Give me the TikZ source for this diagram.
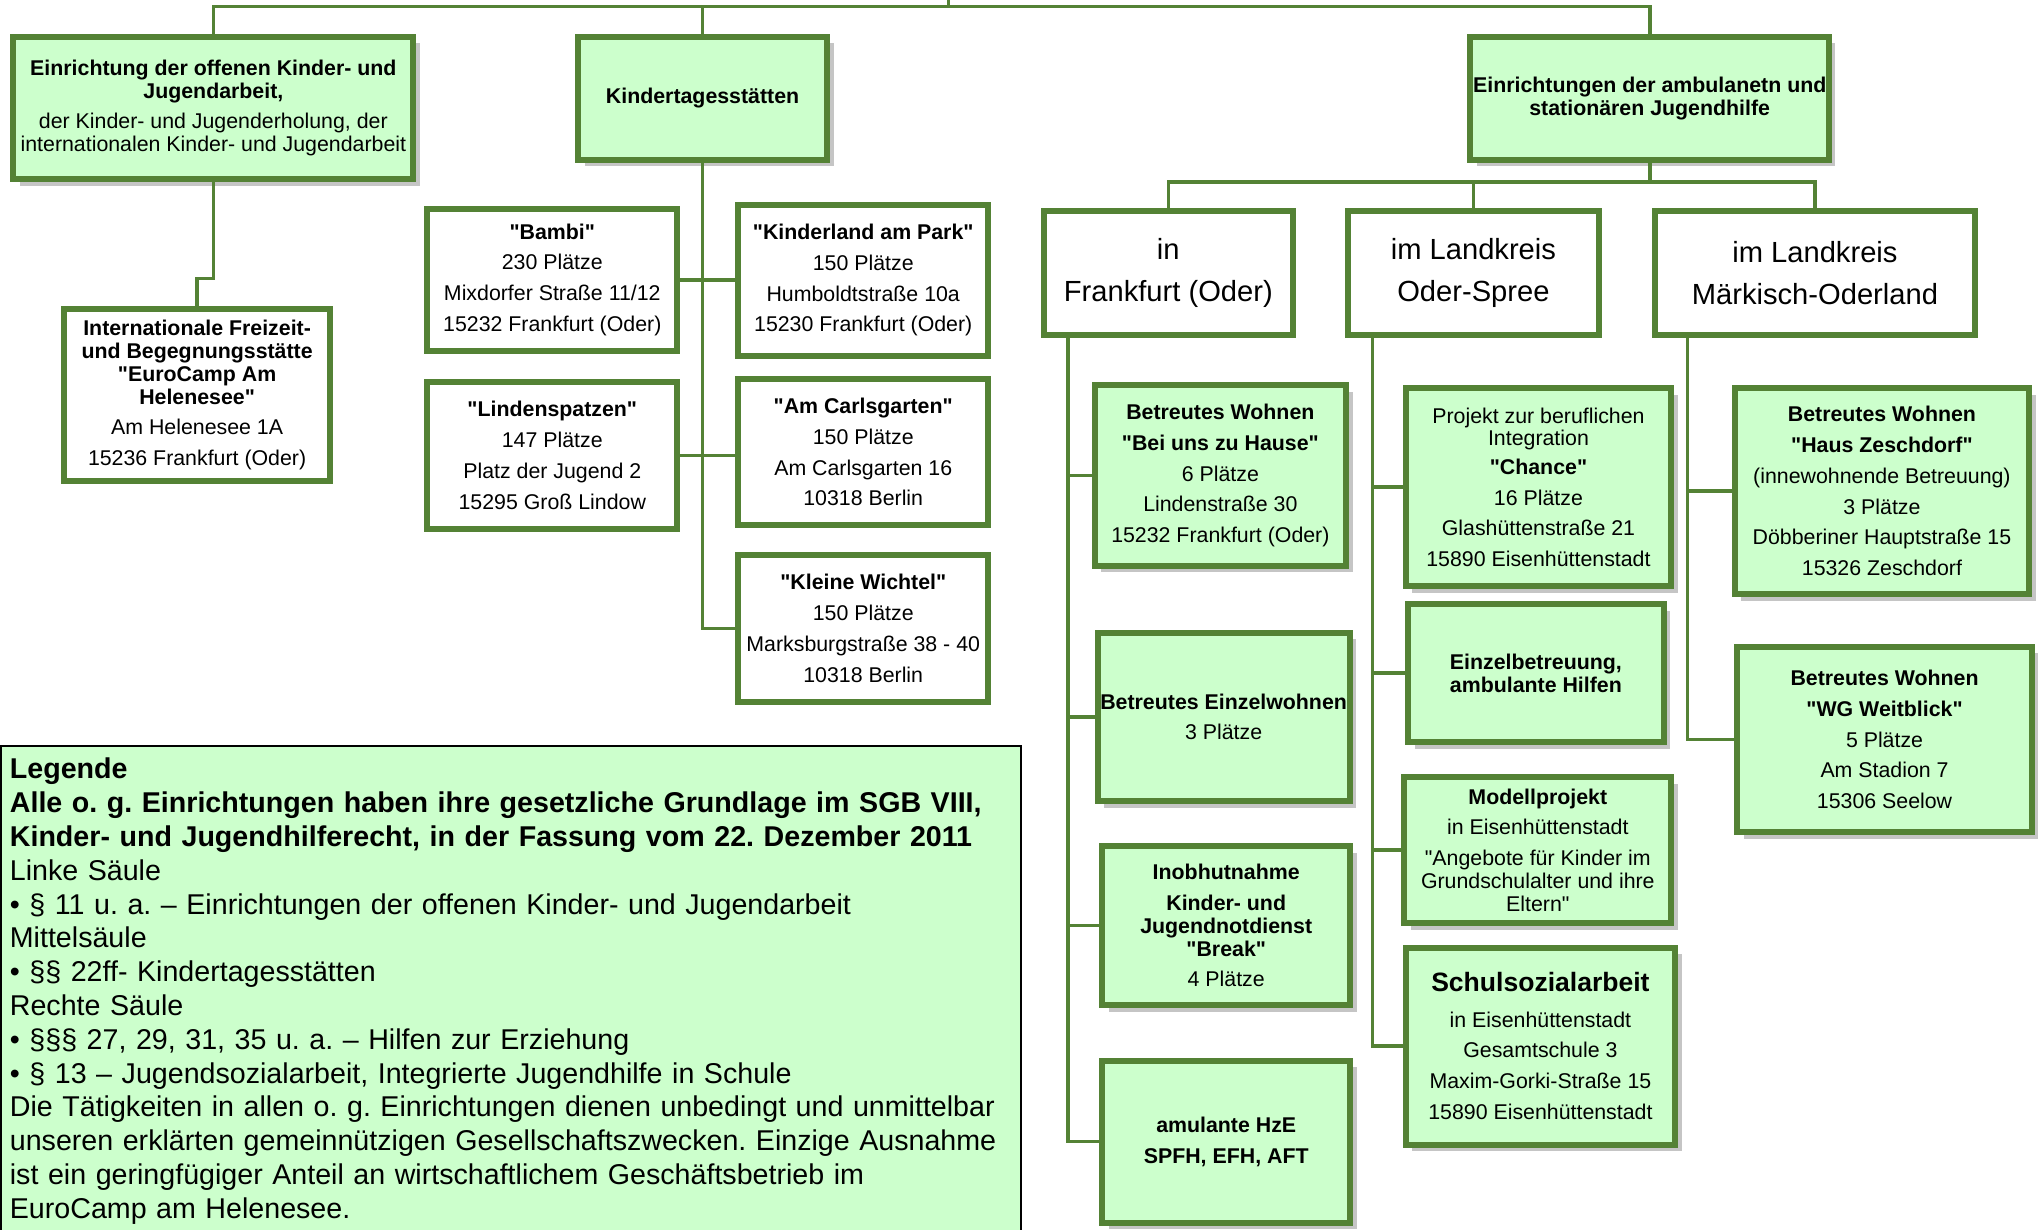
\documentclass[tikz,border=0pt]{standalone}
\usepackage{fontspec}
\setmainfont{Liberation Sans}[Ligatures=TeXOff]
\usepackage{tikz}
\usetikzlibrary{shadows}
\definecolor{rahmengruen}{RGB}{84,130,53}
\definecolor{hellgruen}{RGB}{204,255,204}
\frenchspacing

\begin{document}
\begin{tikzpicture}
    [x=0.5pt, y=-0.5pt, line join=miter,
     kasten/.style={rectangle, draw=rahmengruen, line width=2.3pt, inner sep=1pt, align=center,
                    font=\fontsize{8.2}{11.8}\selectfont},
     gruen/.style={kasten, fill=hellgruen,
                   drop shadow={shadow xshift=2.5pt, shadow yshift=-2.5pt, fill=black!45, opacity=0.5}},
     weiss/.style={kasten, fill=white},
     region/.style={weiss, font=\fontsize{11.2}{16}\selectfont},
     groesse/.style 2 args={minimum width=#1*0.5pt-2.3pt, minimum height=#2*0.5pt-2.3pt},
     linie/.style={draw=rahmengruen, line width=1.4pt}]
\useasboundingbox (0,0) rectangle (1568,945);

%obere Ebene
\node[gruen, groesse={312}{114}] (offen) at (164,83)
  {\textbf{Einrichtung der offenen Kinder- und}\\[-3pt]\textbf{Jugendarbeit,}\\der Kinder- und Jugenderholung, der\\[-3pt]internationalen Kinder- und Jugendarbeit};
\node[gruen, groesse={196}{99}] (kita) at (540,75.5) {\textbf{Kindertagesstätten}};
\node[gruen, groesse={280}{99}] (jhilfe) at (1268,75.5)
  {\textbf{Einrichtungen der ambulanetn und}\\[-3pt]\textbf{stationären Jugendhilfe}};

%linke Saeule
\node[weiss, groesse={209}{137}] (eurocamp) at (151.5,303.5)
  {\textbf{Internationale Freizeit-}\\[-3pt]\textbf{und Begegnungsstätte}\\[-3pt]\textbf{"EuroCamp Am}\\[-3pt]\textbf{Helenesee"}\\Am Helenesee 1A\\15236 Frankfurt (Oder)};

%Mittelsaeule
\node[weiss, groesse={197}{114}] (bambi) at (424.5,215)
  {\textbf{"Bambi"}\\230 Plätze\\Mixdorfer Straße 11/12\\15232 Frankfurt (Oder)};
\node[weiss, groesse={197}{121}] (kinderland) at (663.5,215.5)
  {\textbf{"Kinderland am Park"}\\150 Plätze\\Humboldtstraße 10a\\15230 Frankfurt (Oder)};
\node[weiss, groesse={197}{118}] (linden) at (424.5,350)
  {\textbf{"Lindenspatzen"}\\147 Plätze\\Platz der Jugend 2\\15295 Groß Lindow};
\node[weiss, groesse={197}{117}] (carls) at (663.5,347.5)
  {\textbf{"Am Carlsgarten"}\\150 Plätze\\Am Carlsgarten 16\\10318 Berlin};
\node[weiss, groesse={197}{118}] (wichtel) at (663.5,483)
  {\textbf{"Kleine Wichtel"}\\150 Plätze\\Marksburgstraße 38 - 40\\10318 Berlin};

%rechte Saeule, Regionen
\node[region, groesse={196}{100}] (frankfurt) at (898,210) {in\\Frankfurt (Oder)};
\node[region, groesse={197}{100}] (oderspree) at (1132.5,210) {im Landkreis\\Oder-Spree};
\node[region, groesse={250}{100}] (mol) at (1395,210) {im Landkreis\\Märkisch-Oderland};

%Frankfurt (Oder)
\node[gruen, groesse={198}{143}] (beiuns) at (938,365.5)
  {\textbf{Betreutes Wohnen}\\\textbf{"Bei uns zu Hause"}\\6 Plätze\\Lindenstraße 30\\15232 Frankfurt (Oder)};
\node[gruen, groesse={197}{134}] (einzelw) at (940.5,551)
  {\textbf{Betreutes Einzelwohnen}\\3 Plätze};
\node[gruen, groesse={195}{127}] (inobhut) at (942.5,711.5)
  {\textbf{Inobhutnahme}\\\textbf{Kinder- und}\\[-3pt]\textbf{Jugendnotdienst}\\[-3pt]\textbf{"Break"}\\4 Plätze};
\node[gruen, groesse={195}{129}] (hze) at (942.5,877.5)
  {\textbf{amulante HzE}\\\textbf{SPFH, EFH, AFT}};

%Oder-Spree
\node[gruen, groesse={209}{157}] (chance) at (1182.5,374.5)
  {Projekt zur beruflichen\\[-3pt]Integration\\[-0.8pt]\textbf{"Chance"}\\16 Plätze\\Glashüttenstraße 21\\15890 Eisenhüttenstadt};
\node[gruen, groesse={201}{111}] (einzelb) at (1180.5,517.5)
  {\textbf{Einzelbetreuung,}\\[-3pt]\textbf{ambulante Hilfen}};
\node[gruen, groesse={210}{117}] (modell) at (1182,653.5)
  {\textbf{Modellprojekt}\\in Eisenhüttenstadt\\"Angebote für Kinder im\\[-3pt]Grundschulalter und ihre\\[-3pt]Eltern"};
\node[gruen, groesse={212}{156}] (schul) at (1184,804)
  {{\fontsize{10.2}{12}\selectfont\bfseries Schulsozialarbeit}\\[1.7pt]in Eisenhüttenstadt\\Gesamtschule 3\\Maxim-Gorki-Straße 15\\15890 Eisenhüttenstadt};

%Maerkisch-Oderland
\node[gruen, groesse={231}{163}] (zeschdorf) at (1446.5,377.5)
  {\textbf{Betreutes Wohnen}\\\textbf{"Haus Zeschdorf"}\\(innewohnende Betreuung)\\3 Plätze\\Döbberiner Hauptstraße 15\\15326 Zeschdorf};
\node[gruen, groesse={231}{147}] (weitblick) at (1448.5,568.5)
  {\textbf{Betreutes Wohnen}\\\textbf{"WG Weitblick"}\\5 Plätze\\Am Stadion 7\\15306 Seelow};

%Legende
\node[draw=black, line width=0.6pt, fill=hellgruen, anchor=north west, inner xsep=3.5pt, inner ysep=4.5pt,
      text width=385pt, align=left, font=\fontsize{11}{13}\selectfont] (legende) at (0,573)
  {\textbf{Legende}\\
   \textbf{Alle o. g. Einrichtungen haben ihre gesetzliche Grundlage im SGB VIII,}\\
   \textbf{Kinder- und Jugendhilferecht, in der Fassung vom 22. Dezember 2011}\\
   Linke Säule\\
   • § 11 u. a. – Einrichtungen der offenen Kinder- und Jugendarbeit\\
   Mittelsäule\\
   • §§ 22ff- Kindertagesstätten\\
   Rechte Säule\\
   • §§§ 27, 29, 31, 35 u. a. – Hilfen zur Erziehung\\
   • § 13 – Jugendsozialarbeit, Integrierte Jugendhilfe in Schule\\
   Die Tätigkeiten in allen o. g. Einrichtungen dienen unbedingt und unmittelbar\\
   unseren erklärten gemeinnützigen Gesellschaftszwecken. Einzige Ausnahme\\
   ist ein geringfügiger Anteil an wirtschaftlichem Geschäftsbetrieb im\\
   EuroCamp am Helenesee.};

%Verbindungen oben
\coordinate (oben) at (729,0);
\draw[linie] (oben) -- ++(0,5) coordinate (balken);
\draw[linie] (balken) -| (offen);
\draw[linie] (balken) -| (kita);
\draw[linie] (balken) -| (jhilfe);
\draw[linie] (offen.south) -- (offen.south |- 0,214) -| (eurocamp.north);

%Verbindungen Kitas
\draw[linie] (kita.south) |- (wichtel.west);
\draw[linie] (bambi.east) -- (bambi.east -| kinderland.west);
\draw[linie] (linden.east) -- (linden.east -| carls.west);

%Verbindungen Jugendhilfe
\draw[linie] (jhilfe.south) -- ++(0,15) coordinate (rbalken);
\draw[linie] (rbalken) -| (frankfurt);
\draw[linie] (rbalken) -| (oderspree);
\draw[linie] (rbalken) -| (mol);

\coordinate (ffmlinie) at ([xshift=10.5pt]frankfurt.south west);
\coordinate (loslinie) at ([xshift=10.5pt]oderspree.south west);
\coordinate (mollinie) at ([xshift=13.5pt]mol.south west);
\draw[linie] (ffmlinie) |- (beiuns.west);
\draw[linie] (ffmlinie) |- (einzelw.west);
\draw[linie] (ffmlinie) |- (inobhut.west);
\draw[linie] (ffmlinie) |- (hze.west);
\draw[linie] (loslinie) |- (chance.west);
\draw[linie] (loslinie) |- (einzelb.west);
\draw[linie] (loslinie) |- (modell.west);
\draw[linie] (loslinie) |- (schul.west);
\draw[linie] (mollinie) |- (zeschdorf.west);
\draw[linie] (mollinie) |- (weitblick.west);
\end{tikzpicture}
\end{document}
